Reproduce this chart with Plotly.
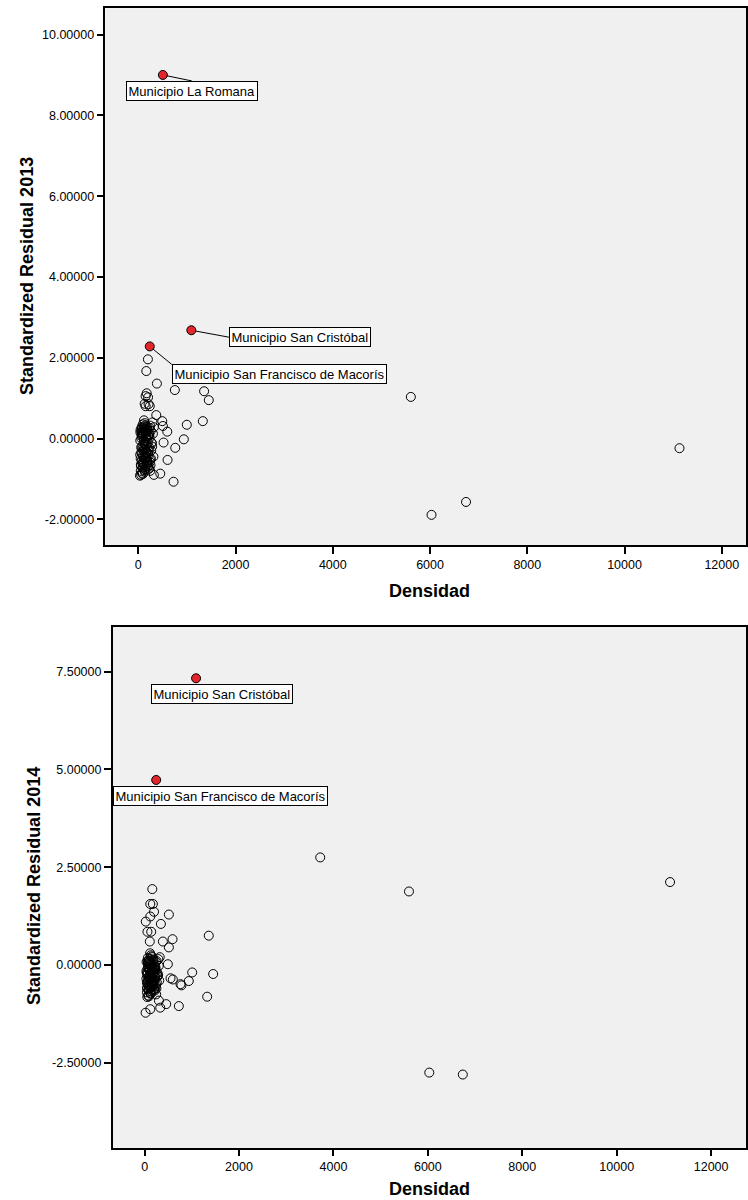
import plotly.graph_objects as go

# ---------------- 2013 residuals vs density ----------------
dens_2013 = [
    45, 60, 72, 85, 95, 110, 120, 135, 150, 165, 180, 195, 210, 230, 250, 270, 290, 310,
    50, 65, 78, 90, 102, 115, 128, 140, 155, 170, 185, 200, 220, 240, 260, 280,
    40, 55, 68, 82, 98, 112, 125, 138, 152, 168, 182, 198, 215, 235, 255,
    48, 62, 75, 88, 105, 118, 132, 145, 160, 175, 190, 205, 225, 245, 300,
    42, 58, 70, 80, 92, 108, 122, 136, 148, 162, 178, 192, 212, 232, 265,
    52, 66, 76, 86, 100, 114, 130, 142, 158, 172, 188, 208, 228, 285,
    38, 57, 74, 96, 116, 144, 166, 196, 240, 320,
    197, 164, 382, 751, 1353, 1449, 172, 150, 200, 130, 210, 150, 235,
    1326, 997, 492, 505, 595, 369, 936, 519, 759, 601, 724, 451, 320, 33,
    5605, 6030, 6740, 11130,
]
resid_2013 = [
    0.21, -0.35, 0.05, -0.62, 0.12, -0.48, 0.30, -0.15, -0.70, 0.02, -0.55, 0.18, -0.30, 0.26, -0.66, -0.10, 0.40, -0.45,
    -0.80, 0.10, -0.25, 0.35, -0.72, -0.05, 0.22, -0.40, 0.14, -0.60, -0.20, 0.08, -0.75, 0.32, -0.50, -0.12,
    -0.05, -0.68, 0.28, -0.18, -0.42, 0.16, -0.78, -0.28, 0.04, 0.24, -0.64, -0.36, 0.11, -0.58, 0.19,
    -0.50, 0.00, -0.85, 0.20, -0.30, -0.62, 0.38, -0.08, -0.45, 0.30, -0.70, 0.06, -0.22, -0.80, 0.12,
    0.15, -0.22, -0.55, 0.07, -0.88, 0.27, -0.12, -0.50, 0.33, -0.35, 0.00, -0.58, -0.40, 0.02, -0.30,
    -0.65, 0.25, -0.38, -0.72, 0.09, -0.25, -0.82, 0.17, -0.15, -0.48, 0.22, -0.68, 0.10, -0.20,
    -0.40, -0.90, 0.15, -0.60, 0.45, -0.76, -0.32, -0.10, -0.52, 0.28,
    1.96, 1.67, 1.36, 1.20, 1.17, 0.95, 1.12, 1.05, 1.02, 0.86, 0.85, 0.80, 0.80,
    0.43, 0.34, 0.43, 0.31, 0.17, 0.58, -0.02, -0.10, -0.23, -0.53, -1.07, -0.87, -0.90, -0.92,
    1.03, -1.89, -1.57, -0.24,
]
lab_2013 = ["Municipio La Romana", "Municipio San Cristóbal", "Municipio San Francisco de Macorís"]
lab_dens_2013 = [505, 1090, 235]
lab_resid_2013 = [9.00, 2.68, 2.28]

# ---------------- 2014 residuals vs density ----------------
dens_2014 = [
    45, 60, 72, 85, 95, 110, 120, 135, 150, 165, 180, 195, 210, 230, 250, 270, 290, 310,
    50, 65, 78, 90, 102, 115, 128, 140, 155, 170, 185, 200, 220, 240, 260, 280,
    40, 55, 68, 82, 98, 112, 125, 138, 152, 168, 182, 198, 215, 235, 255,
    48, 62, 75, 88, 105, 118, 132, 145, 160, 175, 190, 205, 225, 245, 300,
    42, 58, 70, 80, 92, 108, 122, 136, 148, 162, 178, 192, 212, 232, 265,
    52, 66, 76, 86, 100, 114, 130, 142, 158, 172, 188, 208, 228, 285,
    38, 57, 74, 96, 116, 144, 166, 196, 240, 320,
    163, 120, 175, 200, 120, 140, 514, 25, 345, 60, 110, 1359, 592, 387, 514,
    492, 1008, 1452, 549, 599, 760, 780, 936, 1325, 725, 458, 331, 303, 120, 21,
    3720, 5600, 6030, 6740, 11130,
]
resid_2014 = [
    -0.20, -0.45, 0.05, -0.62, -0.12, -0.38, 0.10, -0.25, -0.55, -0.05, -0.48, 0.02, -0.30, -0.10, -0.60, -0.20, 0.15, -0.40,
    -0.70, -0.08, -0.30, 0.12, -0.58, -0.15, 0.05, -0.42, -0.02, -0.50, -0.22, -0.10, -0.65, 0.08, -0.45, -0.28,
    -0.15, -0.60, 0.18, -0.35, -0.48, 0.00, -0.72, -0.32, -0.12, 0.20, -0.52, -0.40, -0.05, -0.55, 0.10,
    -0.45, -0.20, -0.78, 0.06, -0.35, -0.56, 0.25, -0.18, -0.42, 0.14, -0.62, -0.08, -0.30, -0.75, -0.02,
    0.08, -0.25, -0.50, -0.05, -0.80, 0.16, -0.22, -0.45, 0.22, -0.35, -0.12, -0.52, -0.38, -0.15, -0.30,
    -0.58, 0.10, -0.40, -0.66, -0.10, -0.28, -0.74, 0.04, -0.20, -0.46, 0.12, -0.62, -0.05, -0.25,
    -0.35, -0.82, 0.02, -0.55, 0.30, -0.68, -0.32, -0.18, -0.50, 0.20,
    1.94, 1.56, 1.56, 1.36, 1.24, 0.85, 1.29, 1.11, 1.05, 0.85, 0.60, 0.75, 0.66, 0.60, 0.45,
    0.02, -0.19, -0.23, -0.34, -0.37, -0.49, -0.52, -0.41, -0.81, -1.05, -1.00, -1.09, -0.91, -1.13, -1.22,
    2.75, 1.88, -2.75, -2.80, 2.12,
]
lab_2014 = ["Municipio San Cristóbal", "Municipio San Francisco de Macorís"]
lab_dens_2014 = [1090, 245]
lab_resid_2014 = [7.33, 4.73]

# axis ticks
dens_ticks = [0, 2000, 4000, 6000, 8000, 10000, 12000]
resid_ticks_2013 = [-2, 0, 2, 4, 6, 8, 10]
resid_ticks_2014 = [-2.5, 0, 2.5, 5, 7.5]

W, H = 748, 1200
FONT = "Arial, Liberation Sans, sans-serif"
RED = "#e3262b"
BG = "#f0f0f0"


def px_x(p):
    return p / W


def px_y(p):
    return 1 - p / H


def fmt5(values):
    # five decimals with an ASCII hyphen for negatives
    return ["%.5f" % v for v in values]


fig = go.Figure()

open_marker = dict(symbol="circle", size=9, color="rgba(0,0,0,0)",
                   line=dict(color="black", width=1))
red_marker = dict(symbol="circle", size=9, color=RED,
                  line=dict(color="black", width=1))

fig.add_trace(go.Scatter(x=dens_2013, y=resid_2013, mode="markers",
                         marker=open_marker, xaxis="x", yaxis="y", showlegend=False))
fig.add_trace(go.Scatter(x=lab_dens_2013, y=lab_resid_2013, mode="markers",
                         marker=red_marker, xaxis="x", yaxis="y", showlegend=False))
fig.add_trace(go.Scatter(x=dens_2014, y=resid_2014, mode="markers",
                         marker=open_marker, xaxis="x2", yaxis="y2", showlegend=False))
fig.add_trace(go.Scatter(x=lab_dens_2014, y=lab_resid_2014, mode="markers",
                         marker=red_marker, xaxis="x2", yaxis="y2", showlegend=False))

axis_common = dict(showgrid=False, zeroline=False, showline=True, linecolor="black",
                   linewidth=1.5, ticks="outside", ticklen=7, tickcolor="black",
                   tickwidth=1.5, mirror=True,
                   tickfont=dict(family=FONT, size=12.5, color="black"))

fig.update_layout(
    width=W, height=H,
    margin=dict(l=0, r=0, t=0, b=0),
    paper_bgcolor="white", plot_bgcolor=BG,
    xaxis=dict(axis_common, domain=[px_x(105.7), 1.0], range=[-677, 12498],
               tickvals=dens_ticks, ticktext=[str(v) for v in dens_ticks], anchor="y"),
    yaxis=dict(axis_common, domain=[px_y(545), px_y(8.3)], range=[-2.636, 10.65],
               tickvals=resid_ticks_2013, ticktext=fmt5(resid_ticks_2013), anchor="x"),
    xaxis2=dict(axis_common, domain=[px_x(113), 1.0], range=[-676, 12739],
                tickvals=dens_ticks, ticktext=[str(v) for v in dens_ticks], anchor="y2"),
    yaxis2=dict(axis_common, domain=[px_y(1147.7), px_y(627)], range=[-4.67, 8.64],
                tickvals=resid_ticks_2014, ticktext=fmt5(resid_ticks_2014), anchor="x2"),
)

box = dict(font=dict(family=FONT, size=13, color="black"), bgcolor="white",
           bordercolor="black", borderwidth=1, borderpad=1.5,
           arrowcolor="black", arrowwidth=1, arrowhead=0, standoff=4)

annotations = [
    dict(box, x=lab_dens_2013[0], y=lab_resid_2013[0], xref="x", yref="y",
         text=lab_2013[0], showarrow=True, ax=29, ay=6, xanchor="center", yanchor="top"),
    dict(box, x=lab_dens_2013[1], y=lab_resid_2013[1], xref="x", yref="y",
         text=lab_2013[1], showarrow=True, ax=38, ay=7, xanchor="left", yanchor="middle"),
    dict(box, x=lab_dens_2013[2], y=lab_resid_2013[2], xref="x", yref="y",
         text=lab_2013[2], showarrow=True, ax=22, ay=18, xanchor="left", yanchor="top"),
    dict(box, x=lab_dens_2014[0], y=lab_resid_2014[0], xref="x2", yref="y2",
         text=lab_2014[0], showarrow=False, xshift=26, yshift=-16),
    dict(box, x=lab_dens_2014[1], y=lab_resid_2014[1], xref="x2", yref="y2",
         text=lab_2014[1], showarrow=False, xshift=64, yshift=-16),
]

title_font = dict(family=FONT, size=18, color="black")
annotations += [
    dict(text="<b>Densidad</b>", x=px_x(431), y=px_y(591), xref="paper", yref="paper",
         showarrow=False, font=title_font, xanchor="center", yanchor="middle"),
    dict(text="<b>Standardized Residual 2013</b>", x=px_x(27), y=px_y(276),
         xref="paper", yref="paper", showarrow=False, font=title_font, textangle=-90,
         xanchor="center", yanchor="middle"),
    dict(text="<b>Densidad</b>", x=px_x(431), y=px_y(1189), xref="paper", yref="paper",
         showarrow=False, font=title_font, xanchor="center", yanchor="middle"),
    dict(text="<b>Standardized Residual 2014</b>", x=px_x(34), y=px_y(886),
         xref="paper", yref="paper", showarrow=False, font=title_font, textangle=-90,
         xanchor="center", yanchor="middle"),
]
fig.update_layout(annotations=annotations)

fig.write_html("out.html")
